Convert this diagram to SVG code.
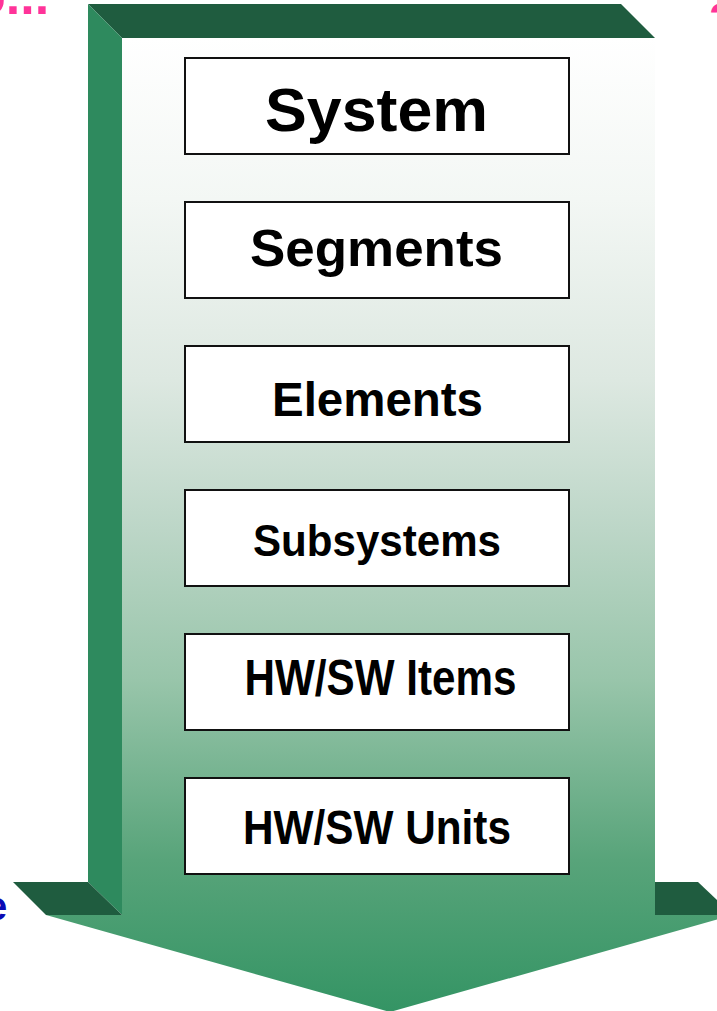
<svg xmlns="http://www.w3.org/2000/svg" width="717" height="1011" viewBox="0 0 717 1011">
  <defs>
    <linearGradient id="faceGrad" gradientUnits="userSpaceOnUse" x1="0" y1="38" x2="0" y2="1012">
      <stop offset="0" stop-color="#ffffff"/>
      <stop offset="0.166" stop-color="#f3f7f4"/>
      <stop offset="0.351" stop-color="#dde8e1"/>
      <stop offset="0.505" stop-color="#bcd6c7"/>
      <stop offset="0.66" stop-color="#98c5aa"/>
      <stop offset="0.844" stop-color="#58a47a"/>
      <stop offset="1" stop-color="#349464"/>
    </linearGradient>
    <style>
      .dark { fill: #1f5c3f; }
      .side { fill: #2e8a5e; }
      .box { fill: #ffffff; stroke: #111111; stroke-width: 2; }
      .label { font-family: "Liberation Sans", Arial, sans-serif; font-weight: bold; fill: #000000; text-anchor: middle; }
      .frag { font-family: "Liberation Sans", Arial, sans-serif; font-weight: bold; }
    </style>
  </defs>

  <rect width="717" height="1011" fill="#ffffff"/>

  <!-- Large downward block arrow -->
  <g id="flow-arrow">
    <polygon class="dark" points="88,4 621,4 655,38 122,38"/>
    <polygon class="side" points="88,4 122,38 122,915 88,882"/>
    <polygon class="dark" points="13,882 88,882 122,915 46,915"/>
    <polygon class="dark" points="655,882 698,882 733,915 655,915"/>
    <polygon fill="url(#faceGrad)" points="122,38 655,38 655,915 733,915 390,1012 46,915 122,915"/>
  </g>

  <!-- Partly visible slide text around the edges -->
  <g id="edge-text">
    <text class="frag" x="-26" y="14" font-size="52" fill="#ff3399">o...</text>
    <text class="frag" x="709" y="34" font-size="44" fill="#ff3399">?</text>
    <text class="frag" x="-15" y="920" font-size="40" fill="#0a0ab4">e</text>
  </g>

  <!-- Hierarchy levels -->
  <g id="node-system">
    <rect class="box" x="185" y="58" width="384" height="96"/>
    <text class="label" x="376.5" y="131" font-size="62" textLength="223" lengthAdjust="spacingAndGlyphs">System</text>
  </g>
  <g id="node-segments">
    <rect class="box" x="185" y="202" width="384" height="96"/>
    <text class="label" x="376.5" y="266" font-size="52" textLength="253" lengthAdjust="spacingAndGlyphs">Segments</text>
  </g>
  <g id="node-elements">
    <rect class="box" x="185" y="346" width="384" height="96"/>
    <text class="label" x="377.5" y="416" font-size="48" textLength="211" lengthAdjust="spacingAndGlyphs">Elements</text>
  </g>
  <g id="node-subsystems">
    <rect class="box" x="185" y="490" width="384" height="96"/>
    <text class="label" x="377" y="556" font-size="45" textLength="248" lengthAdjust="spacingAndGlyphs">Subsystems</text>
  </g>
  <g id="node-hwsw-items">
    <rect class="box" x="185" y="634" width="384" height="96"/>
    <text class="label" x="380.5" y="695" font-size="50" textLength="272" lengthAdjust="spacingAndGlyphs">HW/SW Items</text>
  </g>
  <g id="node-hwsw-units">
    <rect class="box" x="185" y="778" width="384" height="96"/>
    <text class="label" x="377" y="844" font-size="49" textLength="268" lengthAdjust="spacingAndGlyphs">HW/SW Units</text>
  </g>

  <g id="connectors"/>
</svg>
